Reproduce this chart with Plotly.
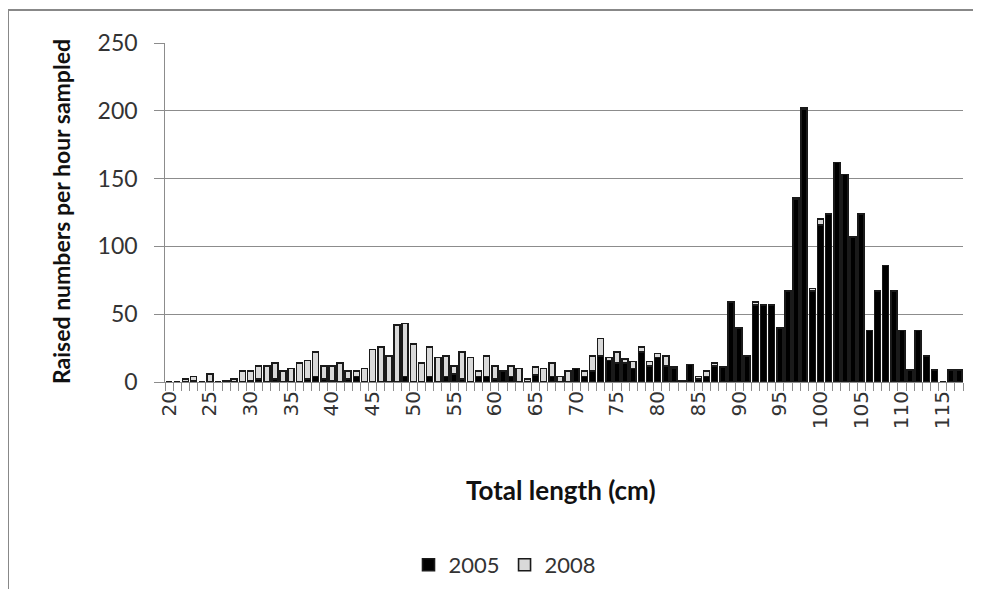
import plotly.graph_objects as go

# Total length classes (cm)
lengths = list(range(20, 118))

# Raised numbers per hour sampled
y2005 = [
    0, 0, 0, 1, 0, 0, 0, 0, 0, 0,          # 20-29
    1, 2, 0, 2, 0, 0, 0, 2, 4, 2,          # 30-39
    1, 0, 2, 4, 0, 0, 0, 0, 0, 4,          # 40-49
    0, 0, 4, 0, 4, 6, 2, 0, 4, 4,          # 50-59
    2, 8, 4, 0, 0, 5, 0, 4, 0, 0,          # 60-69
    10, 4, 8, 19, 16, 14, 14, 10, 22, 12,  # 70-79
    18, 12, 10, 1, 13, 2, 4, 12, 11, 59,   # 80-89
    40, 19, 57, 57, 57, 40, 67, 135, 201, 67,        # 90-99
    116, 124, 162, 153, 107, 124, 38, 67, 86, 67,    # 100-109
    38, 9, 38, 19, 9, 0, 9, 9,             # 110-117
]
y2008 = [
    0, 0, 2, 3, 0, 6, 0, 1, 2, 8,          # 20-29
    7, 10, 12, 12, 8, 10, 14, 14, 18, 10,  # 30-39
    11, 14, 6, 4, 10, 24, 26, 19, 42, 39,  # 40-49
    28, 14, 22, 18, 15, 6, 20, 18, 4, 15,  # 50-59
    10, 0, 8, 10, 2, 6, 10, 10, 4, 8,      # 60-69
    0, 4, 11, 13, 2, 8, 3, 5, 4, 3,        # 70-79
    3, 7, 1, 0, 0, 2, 4, 2, 0, 0,          # 80-89
    0, 0, 2, 0, 0, 0, 0, 1, 1, 2,          # 90-99
    4, 0, 0, 0, 0, 0, 0, 0, 0, 0,          # 100-109
    0, 0, 0, 0, 0, 0, 0, 0,                # 110-117
]

x_ticks = list(range(20, 116, 5))

FONT = "Lato, 'Open Sans', sans-serif"
XFONT = "'DejaVu Sans', Verdana, sans-serif"
GRID = "#8c8c8c"
TXT = "#333333"

# page body has an 8px margin, so work in figure pixels = reference - 8
OFF = 8
W, H = 981 - 2 * OFF, 597 - 2 * OFF
# plot area in reference pixels: x 165..963, y 43..382
L, T = 165 - OFF, 43 - OFF
R, B = W - (963 - OFF), H - (382 - OFF)
pw, ph = W - L - R, H - T - B


def px_x(p):
    # reference pixel -> paper x
    return (p - OFF - L) / pw


def px_y(p):
    # reference pixel -> paper y
    return (H - B - (p - OFF)) / ph


fig = go.Figure()
fig.add_trace(go.Bar(x=lengths, y=y2005, name="2005",
                     marker=dict(color="#000000",
                                 line=dict(color="#1a1a1a", width=1.6))))
fig.add_trace(go.Bar(x=lengths, y=y2008, name="2008",
                     marker=dict(color="#d9d9d9",
                                 line=dict(color="#1a1a1a", width=1.6))))

fig.update_layout(
    width=W, height=H,
    margin=dict(l=L, r=R, t=T, b=B, autoexpand=False),
    barmode="stack",
    bargap=0.26,
    plot_bgcolor="white",
    paper_bgcolor="white",
    font=dict(family=FONT, size=22, color=TXT),
    showlegend=True,
    legend=dict(orientation="h", x=px_x(505), xanchor="center",
                y=px_y(565), yanchor="middle",
                font=dict(size=22, color=TXT), traceorder="normal"),
    xaxis=dict(
        range=[19.5, 117.5],
        tickmode="array", tickvals=x_ticks, ticktext=[str(v) for v in x_ticks],
        tickangle=-90, ticks="", showgrid=False,
        showline=True, linecolor=GRID, linewidth=1,
        minor=dict(tick0=19.5, dtick=1, ticks="outside", ticklen=8,
                   tickcolor=GRID, showgrid=False),
        tickfont=dict(family=XFONT, size=20, color=TXT),
        zeroline=False, automargin=False,
    ),
    yaxis=dict(
        range=[0, 250], dtick=50, tick0=0,
        showgrid=True, gridcolor=GRID, gridwidth=1,
        showline=True, linecolor=GRID, linewidth=1,
        ticks="outside", ticklen=10, tickcolor=GRID,
        ticksuffix="\u00a0\u00a0",
        tickfont=dict(size=23, color=TXT),
        zeroline=False, automargin=False,
    ),
    annotations=[
        dict(text="<b>Total length (cm)</b>", xref="paper", yref="paper",
             x=px_x(561), y=px_y(490), xanchor="center", yanchor="middle",
             showarrow=False, font=dict(size=26, color="#111")),
        dict(text="<b>Raised numbers per hour sampled</b>", xref="paper",
             yref="paper", x=px_x(61), y=px_y(212), textangle=-90,
             xanchor="center", yanchor="middle",
             showarrow=False, font=dict(size=23, color="#111")),
    ],
    shapes=[
        # chart frame: top and left edges
        dict(type="line", xref="paper", yref="paper",
             x0=px_x(8), x1=px_x(1000), y0=px_y(10), y1=px_y(10),
             line=dict(color="#888888", width=2), layer="below"),
        dict(type="line", xref="paper", yref="paper",
             x0=px_x(8), x1=px_x(8), y0=px_y(10), y1=px_y(620),
             line=dict(color="#888888", width=2), layer="below"),
    ],
)

fig.write_html("out.html")
